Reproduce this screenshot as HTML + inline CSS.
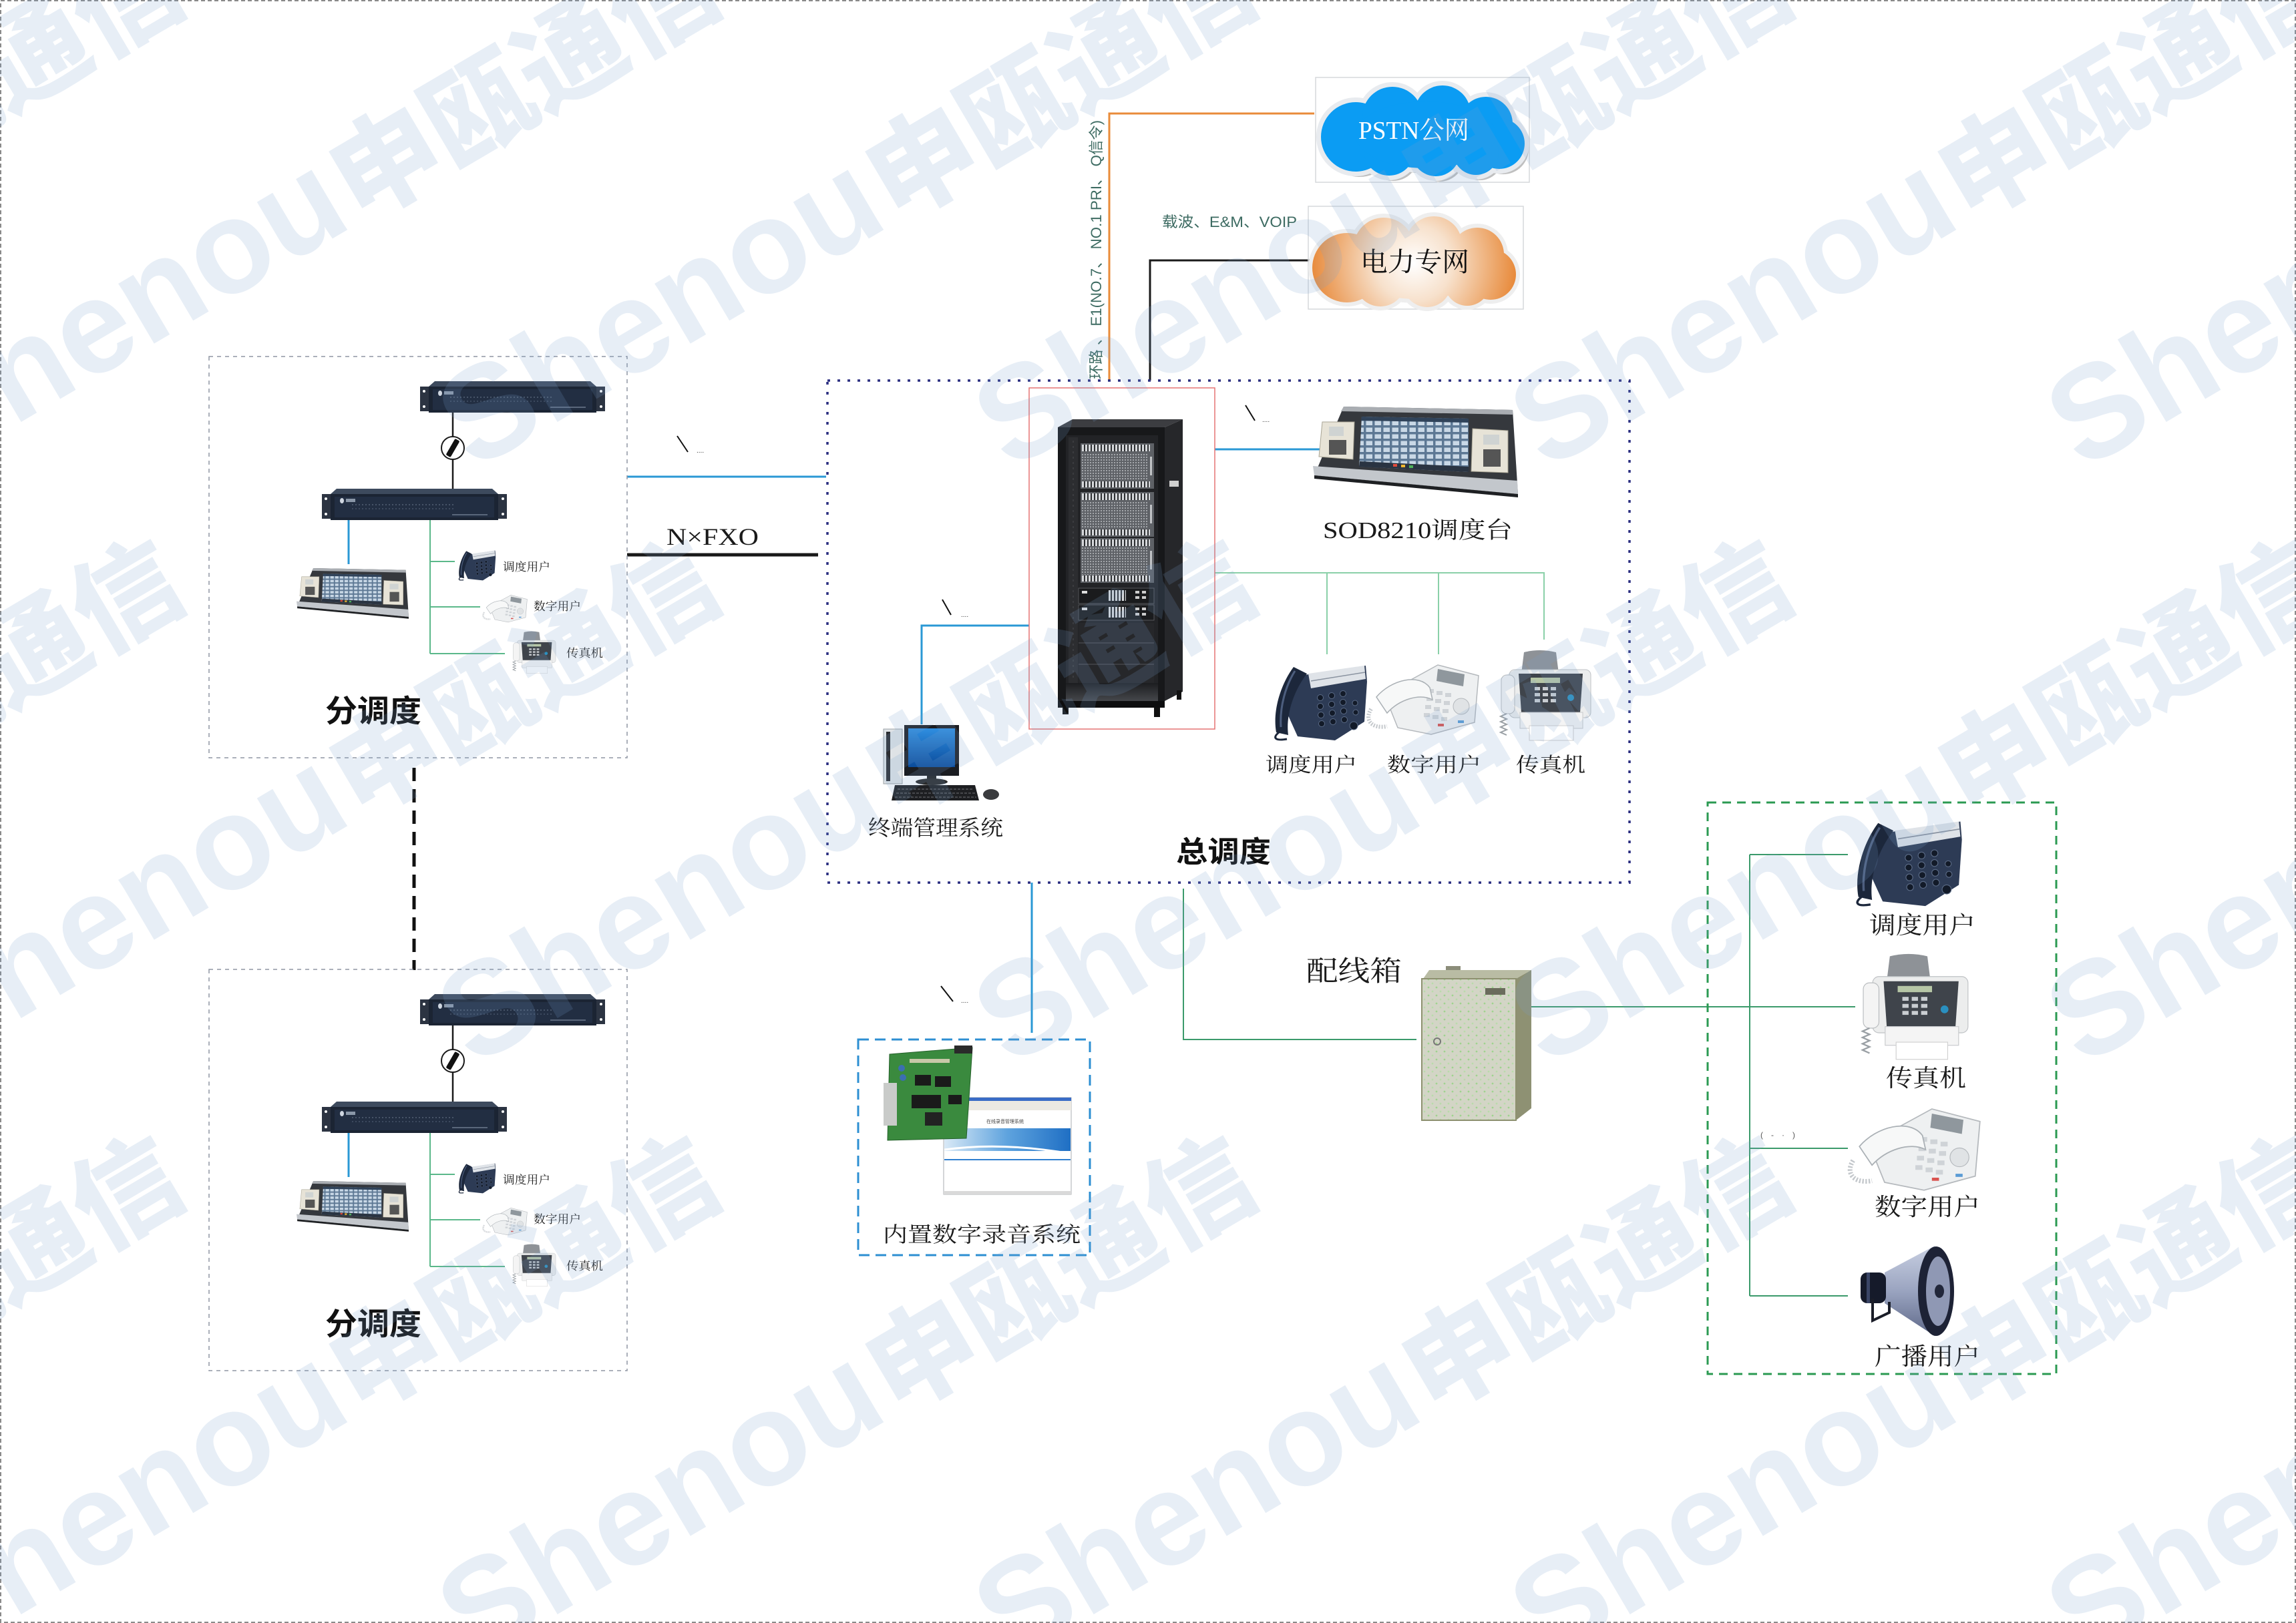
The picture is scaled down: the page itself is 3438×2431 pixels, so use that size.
<!DOCTYPE html>
<html><head><meta charset="utf-8">
<style>
html,body{margin:0;padding:0;background:#fff;}
body{width:3438px;height:2431px;overflow:hidden;position:relative;}
svg{position:absolute;left:0;top:0;}
.s{font-family:"Liberation Serif","Noto Serif CJK SC",serif;}
.a{font-family:"Liberation Sans","Noto Sans CJK SC",sans-serif;}
.b{font-family:"Liberation Sans","Noto Sans CJK SC",sans-serif;font-weight:700;}
.wm{font-family:"Liberation Sans","Noto Sans CJK SC",sans-serif;font-weight:900;}
</style></head>
<body>
<svg width="3438" height="2431" viewBox="0 0 3438 2431" xmlns="http://www.w3.org/2000/svg" xmlns:xlink="http://www.w3.org/1999/xlink">
<defs>
 <pattern id="ports" width="5" height="10" patternUnits="userSpaceOnUse"><rect width="5" height="10" fill="#2c2e31"/><rect width="3" height="10" fill="#d6d8db"/></pattern>
 <pattern id="grill" width="4" height="4" patternUnits="userSpaceOnUse"><rect width="4" height="4" fill="#5f6267"/><rect width="2" height="2" fill="#a4a7ab"/></pattern>
 <pattern id="scr" width="13" height="10" patternUnits="userSpaceOnUse"><rect width="13" height="10" fill="#5d7894"/><rect x="1.5" y="1.5" width="9.5" height="6.5" fill="#c9d8e6"/></pattern>
 <pattern id="dots" width="12" height="12" patternUnits="userSpaceOnUse"><rect width="12" height="12" fill="#d3d5c6"/><circle cx="3" cy="3" r="1.4" fill="#9fd48f"/><circle cx="9" cy="9" r="1.4" fill="#b9dcaa"/></pattern>
 <radialGradient id="og" gradientUnits="userSpaceOnUse" cx="160" cy="82" r="165">
  <stop offset="0" stop-color="#ffffff"/><stop offset="0.35" stop-color="#f7e1cc"/><stop offset="1" stop-color="#e6802a"/>
 </radialGradient>
 <linearGradient id="scrblue" x1="0" y1="0" x2="0" y2="1"><stop offset="0" stop-color="#2f8ee0"/><stop offset="1" stop-color="#0b4c9c"/></linearGradient>
 <linearGradient id="banner" x1="0" y1="0" x2="1" y2="0"><stop offset="0" stop-color="#d9e9f6"/><stop offset="0.5" stop-color="#5ea3de"/><stop offset="1" stop-color="#1f6fc4"/></linearGradient>
 <linearGradient id="cone" x1="0" y1="0" x2="0" y2="1"><stop offset="0" stop-color="#c9d0e2"/><stop offset="0.5" stop-color="#9aa4c0"/><stop offset="1" stop-color="#5e6888"/></linearGradient>
 <linearGradient id="vent" x1="0" y1="0" x2="0" y2="1"><stop offset="0" stop-color="#1c1d20"/><stop offset="1" stop-color="#45474b"/></linearGradient>

 <g id="cloudShape">
  <circle cx="60" cy="89" r="52"/><circle cx="115" cy="59" r="45"/><circle cx="190" cy="54" r="42"/>
  <circle cx="255" cy="69" r="40"/><circle cx="275" cy="99" r="38"/><circle cx="110" cy="109" r="38"/>
  <circle cx="180" cy="112" r="36"/><circle cx="240" cy="112" r="34"/><ellipse cx="165" cy="86" rx="105" ry="50"/>
 </g>

 <g id="unit">
  <rect x="0" y="8" width="13" height="37" fill="#2c3442"/>
  <rect x="264" y="8" width="13" height="37" fill="#2c3442"/>
  <circle cx="6" cy="15" r="2" fill="#fff"/><circle cx="6" cy="38" r="2" fill="#fff"/>
  <circle cx="271" cy="15" r="2" fill="#fff"/><circle cx="271" cy="38" r="2" fill="#fff"/>
  <path d="M13,8 L22,0 L255,0 L264,8 Z" fill="#3d4a5d"/>
  <rect x="13" y="8" width="251" height="39" fill="#1b2433"/>
  <rect x="19" y="12" width="239" height="31" fill="#222e42"/>
  <ellipse cx="30" cy="18" rx="3" ry="4" fill="#cfd6e0"/>
  <rect x="36" y="15" width="14" height="5" fill="#8a97a8"/>
  <line x1="45" y1="24" x2="200" y2="24" stroke="#6c7a8e" stroke-width="1" stroke-dasharray="2 3"/>
  <line x1="45" y1="30" x2="200" y2="30" stroke="#56647a" stroke-width="1" stroke-dasharray="2 3"/>
  <line x1="195" y1="39" x2="248" y2="39" stroke="#6c7a8e" stroke-width="1.5"/>
 </g>

 <g id="console">
  <path d="M46,0 L299,5 L307,131 L2,103 Z" fill="#35383d"/>
  <path d="M46,0 L299,5 L300,12 L42,7 Z" fill="#a9adb2"/>
  <path d="M0,89 L306,111 L307,131 L2,103 Z" fill="#c3c7cc"/>
  <path d="M2,103 L307,131 L307,136 L2,108 Z" fill="#1e2023"/>
  <path d="M73,15 L233,18 L233,98 L69,90 Z" fill="url(#scr)"/>
  <path d="M73,15 L233,18 L233,24 L72,21 Z" fill="#30435a"/>
  <path d="M70,82 L233,90 L233,98 L69,90 Z" fill="#2a3442"/>
  <rect x="120" y="86" width="6" height="4" fill="#e24a3b"/><rect x="132" y="87" width="6" height="4" fill="#f0b72f"/><rect x="144" y="88" width="6" height="4" fill="#4db25a"/>
  <path d="M14,23 L62,23 L60,79 L9,75 Z" fill="#e7e3d7" stroke="#a9a595"/>
  <rect x="24" y="30" width="22" height="14" fill="#cfd3d2"/>
  <rect x="24" y="50" width="26" height="22" fill="#555"/>
  <path d="M239,33 L292,36 L292,99 L237,97 Z" fill="#e7e3d7" stroke="#a9a595"/>
  <rect x="255" y="42" width="24" height="15" fill="#cfd3d2"/>
  <rect x="255" y="64" width="26" height="26" fill="#555"/>
 </g>

 <g id="phoneA">
  <path d="M28,22 L146,4 L148,28 L144,88 L100,116 L44,110 L26,70 Z" fill="#2d3b55"/>
  <path d="M60,16 L144,4 L146,24 L64,38 Z" fill="#dfe3e8"/>
  <path d="M64,27 L145,14" stroke="#8a93a0" stroke-width="1.5"/>
  <g fill="#121a28" stroke="#5a6a85" stroke-width="1">
   <circle cx="78" cy="52" r="4.5"/><circle cx="95" cy="49" r="4.5"/><circle cx="112" cy="46" r="4.5"/>
   <circle cx="78" cy="65" r="4.5"/><circle cx="95" cy="62" r="4.5"/><circle cx="112" cy="59" r="4.5"/>
   <circle cx="79" cy="78" r="4.5"/><circle cx="96" cy="75" r="4.5"/><circle cx="113" cy="72" r="4.5"/>
   <circle cx="80" cy="91" r="4.5"/><circle cx="97" cy="88" r="4.5"/><circle cx="114" cy="85" r="4.5"/>
   <circle cx="130" cy="60" r="4"/><circle cx="131" cy="74" r="4"/><circle cx="128" cy="94" r="6"/>
  </g>
  <path d="M38,6 C20,30 6,70 12,104 L30,108 C26,78 38,42 58,16 Z" fill="#1c273b"/>
  <path d="M40,12 C26,34 17,66 19,96" stroke="#4d5e7e" stroke-width="3" fill="none"/>
  <path d="M16,104 C6,112 10,117 28,114" stroke="#1c273b" stroke-width="3" fill="none"/>
 </g>

 <g id="phoneB">
  <path d="M30,50 L110,6 L171,22 L165,92 L100,110 L50,100 Z" fill="#eef0f1" stroke="#b5b9bd" stroke-width="1.5"/>
  <path d="M110,12 L150,20 L148,38 L108,30 Z" fill="#8f979d"/>
  <g fill="#cfd3d7">
   <rect x="95" y="42" width="9" height="6"/><rect x="108" y="45" width="9" height="6"/><rect x="121" y="48" width="9" height="6"/>
   <rect x="93" y="54" width="9" height="6"/><rect x="106" y="57" width="9" height="6"/><rect x="119" y="60" width="9" height="6"/>
   <rect x="91" y="66" width="9" height="6"/><rect x="104" y="69" width="9" height="6"/><rect x="117" y="72" width="9" height="6"/>
   <rect x="89" y="78" width="9" height="6"/><rect x="102" y="81" width="9" height="6"/><rect x="115" y="84" width="9" height="6"/>
  </g>
  <path d="M18,54 C40,28 82,18 98,40 L102,58 C82,48 52,58 34,78 Z" fill="#f7f8f8" stroke="#aab0b5" stroke-width="1.5"/>
  <path d="M10,72 C0,88 10,102 34,98" stroke="#c4c8cc" stroke-width="6" fill="none" stroke-dasharray="2 2"/>
  <circle cx="145" cy="68" r="12" fill="#e0e3e5" stroke="#b5b9bd"/>
  <rect x="110" y="94" width="9" height="4" fill="#d9534f"/><rect x="140" y="89" width="9" height="4" fill="#5a9bd5"/>
 </g>

 <g id="fax">
  <path d="M52,2 Q76,-4 100,2 L104,34 L48,34 Z" fill="#8e9297"/>
  <rect x="30" y="28" width="122" height="72" rx="8" fill="#eceded" stroke="#bfc2c5"/>
  <path d="M44,34 L140,34 L136,92 L48,92 Z" fill="#3f444b"/>
  <rect x="62" y="40" width="44" height="8" fill="#b6c6a6"/>
  <g fill="#c9cdd1">
   <rect x="68" y="54" width="8" height="5"/><rect x="80" y="54" width="8" height="5"/><rect x="92" y="54" width="8" height="5"/>
   <rect x="68" y="63" width="8" height="5"/><rect x="80" y="63" width="8" height="5"/><rect x="92" y="63" width="8" height="5"/>
   <rect x="68" y="72" width="8" height="5"/><rect x="80" y="72" width="8" height="5"/><rect x="92" y="72" width="8" height="5"/>
  </g>
  <circle cx="122" cy="70" r="5" fill="#2a90c0"/>
  <rect x="46" y="92" width="94" height="24" fill="#f4f4f4" stroke="#c8cacc"/>
  <rect x="60" y="112" width="66" height="22" fill="#ffffff" stroke="#d0d0d0"/>
  <rect x="18" y="36" width="20" height="58" rx="8" fill="#f4f4f4" stroke="#b9bcbf"/>
  <path d="M26,94 l-9,4 l9,4 l-9,4 l9,4 l-9,4 l9,4 l-9,4 l9,4" stroke="#9aa0a5" stroke-width="2" fill="none"/>
 </g>
</defs>

<!-- page border -->
<rect x="1" y="1" width="3436" height="2429" fill="none" stroke="#8a8a8a" stroke-width="2" stroke-dasharray="6 4"/>

<!-- ===== connectors ===== -->
<path d="M1661,570 V170 H1968" fill="none" stroke="#e98b3a" stroke-width="3"/>
<path d="M1722,570 V390 H1962" fill="none" stroke="#1a1a1a" stroke-width="3"/>
<line x1="939" y1="714" x2="1237" y2="714" stroke="#2a98d5" stroke-width="3"/>
<line x1="939" y1="831" x2="1225" y2="831" stroke="#1a1a1a" stroke-width="5"/>
<line x1="1819" y1="673" x2="1979" y2="673" stroke="#2a98d5" stroke-width="3"/>
<path d="M1541,937 H1380 V1085" fill="none" stroke="#2a98d5" stroke-width="3"/>
<line x1="1545" y1="1322" x2="1545" y2="1547" stroke="#2a98d5" stroke-width="3"/>
<path d="M1819,858 H2312 V958 M1987,858 V980 M2154,858 V980" fill="none" stroke="#8ad0a8" stroke-width="2"/>
<path d="M1772,1331 V1557 H2121" fill="none" stroke="#3b9a6b" stroke-width="2"/>
<path d="M2293,1508 H2778 M2620,1280 V1941 M2620,1280 H2767 M2620,1720 H2767 M2620,1941 H2767" fill="none" stroke="#3b9a6b" stroke-width="2"/>
<line x1="620" y1="1150" x2="620" y2="1453" stroke="#111" stroke-width="5" stroke-dasharray="20 12"/>

<!-- ===== boxes ===== -->
<rect x="1239" y="570" width="1201" height="752" fill="none" stroke="#2b2f80" stroke-width="3.5" stroke-dasharray="4 11"/>
<rect x="1541" y="581" width="278" height="511" fill="none" stroke="#e57373" stroke-width="1.5"/>
<rect x="1285" y="1557" width="347" height="323" fill="none" stroke="#2d8fd2" stroke-width="3" stroke-dasharray="16 9"/>
<rect x="2557" y="1202" width="522" height="856" fill="none" stroke="#2b9a52" stroke-width="3" stroke-dasharray="13 9"/>
<rect x="1970" y="116" width="320" height="157" fill="none" stroke="#d6d8db" stroke-width="1.5"/>
<rect x="1959" y="309" width="322" height="154" fill="none" stroke="#d6d8db" stroke-width="1.5"/>

<!-- ===== clouds ===== -->
<use href="#cloudShape" xlink:href="#cloudShape" transform="translate(1976,124)" fill="#8c8c8c" opacity="0.55"/>
<use href="#cloudShape" xlink:href="#cloudShape" transform="translate(1970,116)" fill="#e8ebef" stroke="#e8ebef" stroke-width="14"/>
<use href="#cloudShape" xlink:href="#cloudShape" transform="translate(1970,116)" fill="#0b9cf3"/>
<use href="#cloudShape" xlink:href="#cloudShape" transform="translate(1960,316)" fill="#bdbdbd" opacity="0.4"/>
<use href="#cloudShape" xlink:href="#cloudShape" transform="translate(1957,312)" fill="#eeeeee" stroke="#eeeeee" stroke-width="12"/>
<use href="#cloudShape" xlink:href="#cloudShape" transform="translate(1957,312)" fill="url(#og)"/>

<!-- ===== rack cabinet ===== -->
<path d="M1584,640 L1606,628 L1771,628 L1744,640 Z" fill="#3c3d41"/>
<path d="M1744,640 L1771,628 L1771,1036 L1744,1050 Z" fill="#26272a"/>
<rect x="1751" y="720" width="14" height="9" fill="#d0d0d0"/>
<rect x="1584" y="640" width="160" height="410" fill="#17181a"/>
<rect x="1596" y="652" width="138" height="380" fill="#222326"/>
<rect x="1600" y="655" width="14" height="372" fill="#2c2d30"/>
<line x1="1607" y1="660" x2="1607" y2="1020" stroke="#4a4b4f" stroke-width="1" stroke-dasharray="3 5"/>
<g>
 <rect x="1618" y="664" width="110" height="68" fill="#5e6166"/>
 <rect x="1620" y="666" width="102" height="10" fill="url(#ports)"/>
 <rect x="1620" y="678" width="98" height="42" fill="url(#grill)"/>
 <rect x="1620" y="721" width="102" height="9" fill="url(#ports)"/>
 <rect x="1722" y="684" width="3" height="28" fill="#c0c2c5"/>
 <rect x="1618" y="737" width="110" height="67" fill="#5e6166"/>
 <rect x="1620" y="739" width="102" height="10" fill="url(#ports)"/>
 <rect x="1620" y="751" width="98" height="41" fill="url(#grill)"/>
 <rect x="1620" y="793" width="102" height="9" fill="url(#ports)"/>
 <rect x="1722" y="756" width="3" height="28" fill="#c0c2c5"/>
 <rect x="1618" y="806" width="110" height="67" fill="#5e6166"/>
 <rect x="1620" y="808" width="102" height="10" fill="url(#ports)"/>
 <rect x="1620" y="820" width="98" height="41" fill="url(#grill)"/>
 <rect x="1620" y="862" width="102" height="9" fill="url(#ports)"/>
 <rect x="1722" y="825" width="3" height="28" fill="#c0c2c5"/>
</g>
<g>
 <rect x="1615" y="881" width="113" height="23" fill="#1a1b1d" stroke="#55575b"/>
 <rect x="1620" y="885" width="8" height="4" fill="#ddd"/>
 <rect x="1660" y="884" width="26" height="16" fill="url(#ports)"/>
 <rect x="1700" y="885" width="6" height="4" fill="#ccc"/><rect x="1710" y="885" width="6" height="4" fill="#ccc"/>
 <rect x="1700" y="893" width="6" height="4" fill="#ccc"/><rect x="1710" y="893" width="6" height="4" fill="#ccc"/>
 <rect x="1615" y="906" width="113" height="23" fill="#1a1b1d" stroke="#55575b"/>
 <rect x="1620" y="910" width="8" height="4" fill="#ddd"/>
 <rect x="1660" y="909" width="26" height="16" fill="url(#ports)"/>
 <rect x="1700" y="910" width="6" height="4" fill="#ccc"/><rect x="1710" y="910" width="6" height="4" fill="#ccc"/>
 <rect x="1700" y="918" width="6" height="4" fill="#ccc"/><rect x="1710" y="918" width="6" height="4" fill="#ccc"/>
 <rect x="1615" y="933" width="113" height="90" fill="#26272a"/>
 <line x1="1615" y1="963" x2="1728" y2="963" stroke="#3d3e42" stroke-width="2"/>
 <line x1="1615" y1="995" x2="1728" y2="995" stroke="#3d3e42" stroke-width="2"/>
 <rect x="1596" y="1023" width="138" height="27" fill="url(#vent)"/>
</g>
<rect x="1584" y="1050" width="160" height="10" fill="#0e0e0f"/>
<rect x="1591" y="1058" width="9" height="12" fill="#111"/>
<rect x="1728" y="1060" width="9" height="14" fill="#111"/>
<rect x="1762" y="1034" width="7" height="14" fill="#111"/>

<!-- main console -->
<use href="#console" xlink:href="#console" transform="translate(1966,609)"/>

<!-- main phones -->
<use href="#phoneA" xlink:href="#phoneA" transform="translate(1899,993)"/>
<use href="#phoneB" xlink:href="#phoneB" transform="translate(2043,990)"/>
<use href="#fax" xlink:href="#fax" transform="translate(2230,975)"/>

<!-- PC -->
<rect x="1323" y="1092" width="28" height="82" fill="#dfe3e6" stroke="#9aa0a5"/>
<rect x="1327" y="1096" width="6" height="74" fill="#2b2d31"/>
<rect x="1354" y="1086" width="82" height="76" fill="#1b1d22"/>
<rect x="1360" y="1091" width="70" height="58" fill="url(#scrblue)"/>
<rect x="1388" y="1162" width="14" height="7" fill="#222"/>
<ellipse cx="1395" cy="1171" rx="24" ry="5" fill="#2a2a2a"/>
<path d="M1340,1176 L1460,1176 L1466,1199 L1335,1199 Z" fill="#1e1f22"/>
<path d="M1344,1182 H1458 M1342,1188 H1460 M1340,1194 H1462" stroke="#55575b" stroke-width="1.5" stroke-dasharray="4 2"/>
<ellipse cx="1484" cy="1190" rx="12" ry="8" fill="#3a3b3e"/>

<!-- recording system -->
<rect x="1413" y="1644" width="191" height="145" fill="#ffffff" stroke="#a9adb1"/>
<rect x="1413" y="1644" width="191" height="5" fill="#3a6cc6"/>
<rect x="1413" y="1649" width="191" height="14" fill="#ece9e2"/>
<text class="a" x="1477" y="1682" font-size="7" fill="#444">在线录音管理系统</text>
<rect x="1414" y="1690" width="189" height="34" fill="url(#banner)"/>
<path d="M1414,1722 Q1500,1710 1603,1728" stroke="#ffffff" stroke-width="3" fill="none"/>
<rect x="1414" y="1736" width="189" height="2" fill="#2f7fd0"/>
<rect x="1413" y="1784" width="191" height="5" fill="#d9d9d9"/>
<path d="M1332,1579 L1456,1569 L1447,1705 L1329,1708 Z" fill="#3a8a3e" stroke="#24602a"/>
<rect x="1323" y="1622" width="20" height="64" fill="#c9cbc9"/>
<rect x="1429" y="1566" width="27" height="12" fill="#2a2a2a"/>
<rect x="1370" y="1610" width="24" height="16" fill="#1a1a1a"/>
<rect x="1400" y="1612" width="24" height="16" fill="#1a1a1a"/>
<rect x="1365" y="1640" width="44" height="20" fill="#1a1a1a"/>
<rect x="1385" y="1666" width="26" height="20" fill="#222"/>
<rect x="1420" y="1640" width="20" height="14" fill="#1a1a1a"/>
<circle cx="1350" cy="1600" r="5" fill="#3b6fb0"/><circle cx="1352" cy="1614" r="5" fill="#3b6fb0"/>
<rect x="1362" y="1586" width="60" height="6" fill="#c8c8a8"/>

<!-- distribution cabinet -->
<path d="M2131,1466 L2140,1453 L2293,1453 L2270,1466 Z" fill="#b9bca4"/>
<path d="M2270,1466 L2293,1453 L2293,1660 L2270,1678 Z" fill="#8e9173"/>
<rect x="2129" y="1466" width="141" height="212" fill="url(#dots)" stroke="#8d906f" stroke-width="2"/>
<rect x="2224" y="1480" width="30" height="10" fill="#6a6c5c"/>
<circle cx="2152" cy="1560" r="5" fill="none" stroke="#777" stroke-width="2"/>
<rect x="2165" y="1447" width="22" height="6" fill="#8b8d7a"/>

<!-- right box devices -->
<use href="#phoneA" xlink:href="#phoneA" transform="translate(2769,1226) scale(1.14,1.13)"/>
<use href="#fax" xlink:href="#fax" transform="translate(2769,1430) scale(1.17,1.17)"/>
<use href="#phoneB" xlink:href="#phoneB" transform="translate(2763,1654) scale(1.18,1.17)"/>
<!-- horn -->
<path d="M2822,1906 L2897,1866 L2897,2001 L2822,1952 Z" fill="url(#cone)"/>
<ellipse cx="2899" cy="1934" rx="27" ry="67" fill="#1d2235"/>
<ellipse cx="2902" cy="1934" rx="18" ry="52" fill="#8f98b4"/>
<ellipse cx="2904" cy="1934" rx="7" ry="10" fill="#22273a"/>
<rect x="2786" y="1906" width="38" height="46" rx="10" fill="#151a2a"/>
<rect x="2795" y="1906" width="5" height="46" fill="#3a4566"/>
<path d="M2804,1945 L2804,1978 L2829,1966 L2829,1950" stroke="#1a1d28" stroke-width="4" fill="none"/>

<!-- ===== sub dispatch box 1 ===== -->
<g>
 <rect x="313" y="534" width="626" height="601" fill="none" stroke="#8f96a3" stroke-width="1.5" stroke-dasharray="6 6"/>
 <use href="#unit" xlink:href="#unit" transform="translate(629,571)"/>
 <use href="#unit" xlink:href="#unit" transform="translate(482,732)"/>
 <line x1="678" y1="618" x2="678" y2="732" stroke="#1a1a1a" stroke-width="2.5"/>
 <circle cx="678" cy="671" r="17" fill="#fff" stroke="#1a1a1a" stroke-width="2"/>
 <rect x="674" y="657" width="8" height="28" rx="2" fill="#111" transform="rotate(30 678 671)"/>
 <line x1="522" y1="779" x2="522" y2="845" stroke="#2a98d5" stroke-width="3"/>
 <path d="M644,779 V979 M644,841 H681 M644,909 H719 M644,979 H756" stroke="#5bb88a" stroke-width="2" fill="none"/>
 <use href="#console" xlink:href="#console" transform="translate(444,851) scale(0.547,0.557)"/>
 <use href="#phoneA" xlink:href="#phoneA" transform="translate(683,823) scale(0.4)"/>
 <use href="#phoneB" xlink:href="#phoneB" transform="translate(721,889) scale(0.4,0.39)"/>
 <use href="#fax" xlink:href="#fax" transform="translate(760,946) scale(0.474,0.467)"/>
 <text class="s" x="753" y="855" font-size="17" fill="#222" textLength="71" lengthAdjust="spacingAndGlyphs">调度用户</text>
 <text class="s" x="799" y="914" font-size="17" fill="#222" textLength="71" lengthAdjust="spacingAndGlyphs">数字用户</text>
 <text class="s" x="848" y="984" font-size="17" fill="#222" textLength="55" lengthAdjust="spacingAndGlyphs">传真机</text>
 <text class="b" x="487" y="1081" font-size="46" fill="#111" textLength="144" lengthAdjust="spacingAndGlyphs">分调度</text>
</g>
<!-- ===== sub dispatch box 2 ===== -->
<g transform="translate(0,918)">
 <rect x="313" y="534" width="626" height="601" fill="none" stroke="#8f96a3" stroke-width="1.5" stroke-dasharray="6 6"/>
 <use href="#unit" xlink:href="#unit" transform="translate(629,571)"/>
 <use href="#unit" xlink:href="#unit" transform="translate(482,732)"/>
 <line x1="678" y1="618" x2="678" y2="732" stroke="#1a1a1a" stroke-width="2.5"/>
 <circle cx="678" cy="671" r="17" fill="#fff" stroke="#1a1a1a" stroke-width="2"/>
 <rect x="674" y="657" width="8" height="28" rx="2" fill="#111" transform="rotate(30 678 671)"/>
 <line x1="522" y1="779" x2="522" y2="845" stroke="#2a98d5" stroke-width="3"/>
 <path d="M644,779 V979 M644,841 H681 M644,909 H719 M644,979 H756" stroke="#5bb88a" stroke-width="2" fill="none"/>
 <use href="#console" xlink:href="#console" transform="translate(444,851) scale(0.547,0.557)"/>
 <use href="#phoneA" xlink:href="#phoneA" transform="translate(683,823) scale(0.4)"/>
 <use href="#phoneB" xlink:href="#phoneB" transform="translate(721,889) scale(0.4,0.39)"/>
 <use href="#fax" xlink:href="#fax" transform="translate(760,946) scale(0.474,0.467)"/>
 <text class="s" x="753" y="855" font-size="17" fill="#222" textLength="71" lengthAdjust="spacingAndGlyphs">调度用户</text>
 <text class="s" x="799" y="914" font-size="17" fill="#222" textLength="71" lengthAdjust="spacingAndGlyphs">数字用户</text>
 <text class="s" x="848" y="984" font-size="17" fill="#222" textLength="55" lengthAdjust="spacingAndGlyphs">传真机</text>
 <text class="b" x="487" y="1081" font-size="46" fill="#111" textLength="144" lengthAdjust="spacingAndGlyphs">分调度</text>
</g>

<!-- small marks -->
<g stroke="#111" stroke-width="2">
 <line x1="1014" y1="653" x2="1030" y2="677"/>
 <line x1="1865" y1="607" x2="1879" y2="630"/>
 <line x1="1411" y1="898" x2="1424" y2="921"/>
 <line x1="1409" y1="1477" x2="1427" y2="1500"/>
</g>
<g fill="#333">
 <text class="a" x="1043" y="678" font-size="10">....</text>
 <text class="a" x="1890" y="632" font-size="10">....</text>
 <text class="a" x="1439" y="924" font-size="10">....</text>
 <text class="a" x="1439" y="1502" font-size="10">....</text>
</g>
<text class="a" x="2636" y="1704" font-size="12" fill="#555" textLength="52" lengthAdjust="spacing">( ‑ · )</text>

<!-- ===== labels ===== -->
<text class="s" x="2034" y="208" font-size="38" fill="#ffffff" textLength="166" lengthAdjust="spacingAndGlyphs">PSTN公网</text>
<text class="s" x="2037" y="406" font-size="40" fill="#111" textLength="163" lengthAdjust="spacingAndGlyphs">电力专网</text>
<text class="a" x="1740" y="340" font-size="22" fill="#3d6b62" textLength="202" lengthAdjust="spacingAndGlyphs">载波、E&amp;M、VOIP</text>
<text class="a" transform="translate(1649,568) rotate(-90)" x="0" y="0" font-size="22" fill="#3d6b62" textLength="388" lengthAdjust="spacingAndGlyphs">环路 、 E1(NO.7、 NO.1 PRI、 Q信令)</text>
<text class="s" x="998" y="816" font-size="36" fill="#1a1a1a" textLength="138" lengthAdjust="spacingAndGlyphs">N×FXO</text>
<text class="s" x="1981" y="806" font-size="35" fill="#1a1a1a" textLength="284" lengthAdjust="spacingAndGlyphs">SOD8210调度台</text>
<text class="s" x="1895" y="1156" font-size="30" fill="#1a1a1a" textLength="137" lengthAdjust="spacingAndGlyphs">调度用户</text>
<text class="s" x="2077" y="1156" font-size="30" fill="#1a1a1a" textLength="141" lengthAdjust="spacingAndGlyphs">数字用户</text>
<text class="s" x="2270" y="1156" font-size="30" fill="#1a1a1a" textLength="104" lengthAdjust="spacingAndGlyphs">传真机</text>
<text class="s" x="1300" y="1251" font-size="32" fill="#1a1a1a" textLength="202" lengthAdjust="spacingAndGlyphs">终端管理系统</text>
<text class="b" x="1761" y="1291" font-size="44" fill="#111" textLength="142" lengthAdjust="spacingAndGlyphs">总调度</text>
<text class="s" x="1322" y="1860" font-size="32" fill="#1a1a1a" textLength="296" lengthAdjust="spacingAndGlyphs">内置数字录音系统</text>
<text class="s" x="1956" y="1469" font-size="42" fill="#1a1a1a" textLength="143" lengthAdjust="spacingAndGlyphs">配线箱</text>
<text class="s" x="2799" y="1398" font-size="36" fill="#1a1a1a" textLength="159" lengthAdjust="spacingAndGlyphs">调度用户</text>
<text class="s" x="2824" y="1627" font-size="36" fill="#1a1a1a" textLength="120" lengthAdjust="spacingAndGlyphs">传真机</text>
<text class="s" x="2807" y="1820" font-size="36" fill="#1a1a1a" textLength="158" lengthAdjust="spacingAndGlyphs">数字用户</text>
<text class="s" x="2807" y="2044" font-size="36" fill="#1a1a1a" textLength="158" lengthAdjust="spacingAndGlyphs">广播用户</text>

<!-- ===== watermark ===== -->
<g class="wm" fill="rgb(120,160,205)" fill-opacity="0.18" font-size="198">
 <text transform="translate(-897,706) rotate(-30.5)">Shenou<tspan dx="8" font-size="160">申瓯通信</tspan></text>
 <text transform="translate(-94,706) rotate(-30.5)">Shenou<tspan dx="8" font-size="160">申瓯通信</tspan></text>
 <text transform="translate(709,706) rotate(-30.5)">Shenou<tspan dx="8" font-size="160">申瓯通信</tspan></text>
 <text transform="translate(1512,706) rotate(-30.5)">Shenou<tspan dx="8" font-size="160">申瓯通信</tspan></text>
 <text transform="translate(2315,706) rotate(-30.5)">Shenou<tspan dx="8" font-size="160">申瓯通信</tspan></text>
 <text transform="translate(3118,706) rotate(-30.5)">Shenou<tspan dx="8" font-size="160">申瓯通信</tspan></text>
 <text transform="translate(-897,1599) rotate(-30.5)">Shenou<tspan dx="8" font-size="160">申瓯通信</tspan></text>
 <text transform="translate(-94,1599) rotate(-30.5)">Shenou<tspan dx="8" font-size="160">申瓯通信</tspan></text>
 <text transform="translate(709,1599) rotate(-30.5)">Shenou<tspan dx="8" font-size="160">申瓯通信</tspan></text>
 <text transform="translate(1512,1599) rotate(-30.5)">Shenou<tspan dx="8" font-size="160">申瓯通信</tspan></text>
 <text transform="translate(2315,1599) rotate(-30.5)">Shenou<tspan dx="8" font-size="160">申瓯通信</tspan></text>
 <text transform="translate(3118,1599) rotate(-30.5)">Shenou<tspan dx="8" font-size="160">申瓯通信</tspan></text>
 <text transform="translate(-897,2492) rotate(-30.5)">Shenou<tspan dx="8" font-size="160">申瓯通信</tspan></text>
 <text transform="translate(-94,2492) rotate(-30.5)">Shenou<tspan dx="8" font-size="160">申瓯通信</tspan></text>
 <text transform="translate(709,2492) rotate(-30.5)">Shenou<tspan dx="8" font-size="160">申瓯通信</tspan></text>
 <text transform="translate(1512,2492) rotate(-30.5)">Shenou<tspan dx="8" font-size="160">申瓯通信</tspan></text>
 <text transform="translate(2315,2492) rotate(-30.5)">Shenou<tspan dx="8" font-size="160">申瓯通信</tspan></text>
 <text transform="translate(3118,2492) rotate(-30.5)">Shenou<tspan dx="8" font-size="160">申瓯通信</tspan></text>
</g>
</svg>
</body></html>
